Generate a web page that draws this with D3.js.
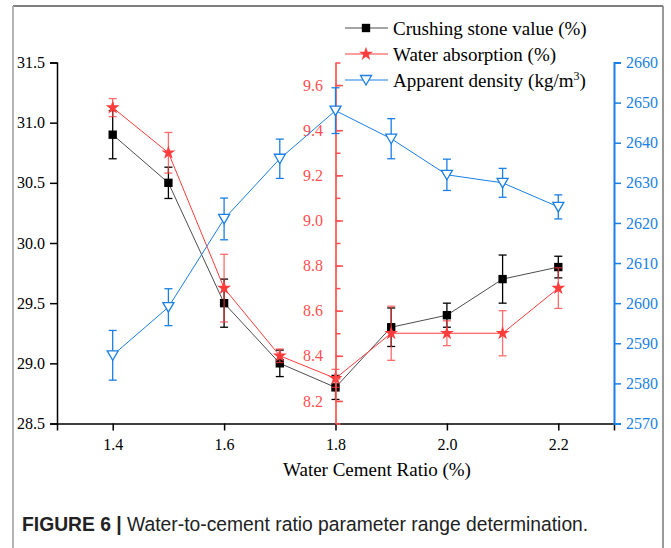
<!DOCTYPE html>
<html>
<head>
<meta charset="utf-8">
<script src="https://cdn.jsdelivr.net/npm/d3@7"></script>
<style>
    body { margin: 0; background: white; }
    svg { display: block; }
</style>
</head>
<body>
<svg id="chart" width="671" height="548"></svg>
<script>
//data
let ratio = [1.4, 1.5, 1.6, 1.7, 1.8, 1.9, 2.0, 2.1, 2.2]
let crushing = [30.9, 30.5, 29.5, 29.0, 28.8, 29.3, 29.4, 29.7, 29.8]
let crushingErr = [0.2, 0.13, 0.2, 0.11, 0.1, 0.16, 0.1, 0.2, 0.09]
let absorption = [9.5, 9.3, 8.7, 8.4, 8.3, 8.5, 8.5, 8.5, 8.7]
let absorptionErr = [0.04, 0.09, 0.15, 0.03, 0.04, 0.12, 0.055, 0.1, 0.09]
let density = [2587, 2599, 2621, 2636, 2648, 2641, 2632, 2630, 2624]
let densityErr = [6.2, 4.6, 5.2, 4.9, 5.7, 5, 3.9, 3.6, 3]

let xTicks = [1.4, 1.6, 1.8, 2.0, 2.2]
let leftTicks = [28.5, 29.0, 29.5, 30.0, 30.5, 31.0, 31.5]
let redTicks = [8.2, 8.4, 8.6, 8.8, 9.0, 9.2, 9.4, 9.6]
let blueTicks = [2570, 2580, 2590, 2600, 2610, 2620, 2630, 2640, 2650, 2660]

let legendNames = ["Crushing stone value (%)", "Water absorption (%)", "Apparent density (kg/m"]

let black = "#000000", red = "#ff3c3c", blue = "#1a7fe6"
let serif = "'Liberation Serif', 'Times New Roman', serif"

let plotLeft = 57, plotRight = 614, plotTop = 62.5, plotBottom = 423.5

let svg = d3.select("#chart")

//gray figure frame
svg.append("line").attr("x1", 13).attr("x2", 663).attr("y1", 6).attr("y2", 6)
    .attr("stroke", "#555").attr("stroke-width", 1.5)
svg.append("line").attr("x1", 13).attr("x2", 13).attr("y1", 6).attr("y2", 548)
    .attr("stroke", "#b5b5b5").attr("stroke-width", 2)
svg.append("line").attr("x1", 663).attr("x2", 663).attr("y1", 6).attr("y2", 548)
    .attr("stroke", "#777").attr("stroke-width", 1.5)

let x = d3.scaleLinear().domain([1.3, 2.3]).range([plotLeft, plotRight])
let yL = d3.scaleLinear().domain([28.5, 31.5]).range([plotBottom, plotTop])
let yR = d3.scaleLinear().domain([8.1, 9.7]).range([plotBottom, plotTop])
let yB = d3.scaleLinear().domain([2570, 2660]).range([plotBottom, plotTop])

//x axis
let xAxis = svg.append("g").attr("transform", "translate(0," + plotBottom + ")")
xAxis.call(d3.axisBottom(x).tickValues(d3.range(1.5, 2.2, 0.2)).tickSize(4).tickFormat(""))
xAxis.call(d3.axisBottom(x).tickValues(xTicks).tickSize(7).tickFormat(d3.format(".1f")))
xAxis.attr("font-family", serif).attr("font-size", 16)
xAxis.selectAll("path").attr("stroke-width", 1.5)
xAxis.selectAll("line").attr("stroke-width", 1.5)
xAxis.selectAll("text").attr("dy", "1.05em")

//left axis
let lAxis = svg.append("g").attr("transform", "translate(" + plotLeft + ",0)")
lAxis.call(d3.axisLeft(yL).tickValues(d3.range(28.75, 31.5, 0.5)).tickSize(4).tickFormat(""))
lAxis.call(d3.axisLeft(yL).tickValues(leftTicks).tickSize(7).tickPadding(5).tickFormat(d3.format(".1f")))
lAxis.attr("font-family", serif).attr("font-size", 16)
lAxis.selectAll("path").attr("stroke-width", 1.5)
lAxis.selectAll("line").attr("stroke-width", 1.5)

//right axis (apparent density)
let rAxis = svg.append("g").attr("transform", "translate(" + plotRight + ",0)").attr("color", blue)
rAxis.call(d3.axisRight(yB).tickValues(d3.range(2575, 2660, 10)).tickSize(4).tickFormat(""))
rAxis.call(d3.axisRight(yB).tickValues(blueTicks).tickSize(7).tickPadding(5).tickFormat(d3.format("d")))
rAxis.attr("font-family", serif).attr("font-size", 16)
rAxis.selectAll("path").attr("stroke-width", 2)
rAxis.selectAll("line").attr("stroke-width", 1.5)

//x axis title
svg.append("text")
    .attr("x", 377)
    .attr("y", 476)
    .attr("text-anchor", "middle")
    .attr("font-family", serif)
    .attr("font-size", 19)
    .text("Water Cement Ratio (%)")

//draws one series: line, error bars, markers
function drawSeries(values, errs, y, color, symbol, hollow) {
    let pts = ratio.map((r, i) => ({x: r, v: values[i], e: errs[i]}))
    let g = svg.append("g")

    g.append("path").datum(pts)
        .attr("fill", "none")
        .attr("stroke", color)
        .attr("stroke-width", 1)
        .attr("opacity", color == black ? 0.7 : 1)
        .attr("d", d3.line().x(d => x(d.x)).y(d => y(d.v)))

    let err = g.selectAll(".err").data(pts).join("g").attr("stroke", color).attr("stroke-width", 1.3)
        .attr("opacity", color == red ? 0.75 : 1)
    err.append("line").attr("x1", d => x(d.x)).attr("x2", d => x(d.x))
        .attr("y1", d => y(d.v - d.e)).attr("y2", d => y(d.v + d.e))
    err.append("line").attr("x1", d => x(d.x) - 4).attr("x2", d => x(d.x) + 4)
        .attr("y1", d => y(d.v - d.e)).attr("y2", d => y(d.v - d.e))
    err.append("line").attr("x1", d => x(d.x) - 4).attr("x2", d => x(d.x) + 4)
        .attr("y1", d => y(d.v + d.e)).attr("y2", d => y(d.v + d.e))

    g.selectAll(".mark").data(pts).join("path")
        .attr("transform", d => "translate(" + x(d.x) + "," + y(d.v) + ")")
        .attr("d", symbol)
        .attr("fill", hollow ? "white" : color)
        .attr("stroke", color)
        .attr("stroke-width", hollow ? 1.3 : 0)
}

//down-pointing triangle
let triDown = "M-5.5,-4.5L5.5,-4.5L0,5Z"
let square = d3.symbol(d3.symbolSquare, 70)()
let star = d3.symbol(d3.symbolStar, 60)()

drawSeries(crushing, crushingErr, yL, black, square, false)
drawSeries(absorption, absorptionErr, yR, red, star, false)

//middle axis (water absorption), ticks cross the line
let mAxis = svg.append("g").attr("transform", "translate(" + x(1.8) + ",0)").attr("color", "#ff5050")
mAxis.call(d3.axisLeft(yR).tickValues(d3.range(8.1, 9.75, 0.1)).tickSizeInner(5).tickSizeOuter(0).tickFormat(""))
mAxis.selectAll(".tick line").attr("x2", 5)
let mMajor = svg.append("g").attr("transform", "translate(" + x(1.8) + ",0)").attr("color", "#ff5050")
mMajor.call(d3.axisLeft(yR).tickValues(redTicks).tickSizeInner(7.5).tickSizeOuter(0).tickPadding(5).tickFormat(d3.format(".1f")))
mMajor.attr("font-family", serif).attr("font-size", 16)
mMajor.selectAll(".tick line").attr("x2", 7.5)
mMajor.select(".domain").remove()
mAxis.selectAll("path").attr("stroke-width", 2).attr("opacity", 0.85)
mAxis.selectAll("line").attr("stroke-width", 1.5)
mMajor.selectAll("line").attr("stroke-width", 1.5)

drawSeries(density, densityErr, yB, blue, triDown, true)

//legend
let legend = svg.append("g")
let legendColors = [black, red, blue]
let legendSymbols = [square, star, triDown]
legendNames.forEach((name, i) => {
    let ly = 28 + i * 26
    let row = legend.append("g").attr("transform", "translate(0," + ly + ")")
    row.append("line").attr("x1", 345).attr("x2", 388).attr("y1", 0).attr("y2", 0)
        .attr("stroke", legendColors[i]).attr("stroke-width", 1)
        .attr("opacity", i == 0 ? 0.7 : 1)
    row.append("path").attr("transform", "translate(366,0)")
        .attr("d", legendSymbols[i])
        .attr("fill", i == 2 ? "white" : legendColors[i])
        .attr("stroke", legendColors[i])
        .attr("stroke-width", i == 2 ? 1.3 : 0)
    let t = row.append("text").attr("x", 393).attr("y", 7)
        .attr("font-family", serif).attr("font-size", 19)
        .text(name)
    if (i == 2) {
        t.append("tspan").attr("font-size", 12).attr("dy", -7).text("3")
        t.append("tspan").attr("dy", 7).text(")")
    }
})

//caption
let cap = svg.append("text")
    .attr("x", 22)
    .attr("y", 531)
    .attr("font-family", "'Liberation Sans', Arial, sans-serif")
    .attr("font-size", 19.3)
    .attr("fill", "#222")
cap.append("tspan").attr("font-weight", "bold").text("FIGURE 6 | ")
cap.append("tspan").text("Water-to-cement ratio parameter range determination.")
</script>
</body>
</html>
